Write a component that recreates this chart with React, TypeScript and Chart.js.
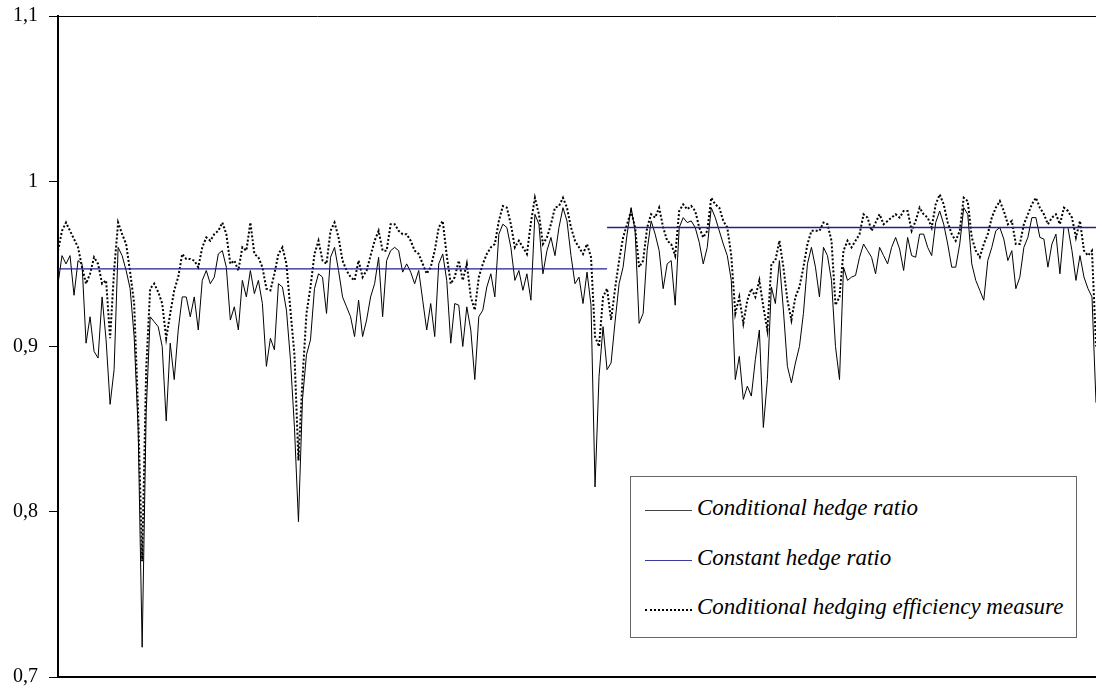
import React, { useEffect, useRef } from "react";
import { Chart, registerables } from "chart.js";

Chart.register(...registerables);

// Conditional hedge ratio (solid black), one value per observation
const conditionalHedgeRatio = [
  0.938, 0.955, 0.95, 0.955, 0.931, 0.952, 0.95, 0.902, 0.918, 0.897,
  0.893, 0.93, 0.904, 0.865, 0.886, 0.96, 0.955, 0.946, 0.935, 0.906,
  0.85, 0.718, 0.86, 0.918, 0.915, 0.912, 0.9, 0.855, 0.902, 0.88,
  0.91, 0.93, 0.93, 0.918, 0.93, 0.91, 0.94, 0.946, 0.938, 0.942,
  0.956, 0.958, 0.948, 0.916, 0.924, 0.91, 0.94, 0.93, 0.946, 0.932,
  0.94, 0.926, 0.888, 0.905, 0.898, 0.938, 0.936, 0.922, 0.892, 0.851,
  0.794, 0.868, 0.895, 0.904, 0.935, 0.944, 0.942, 0.92, 0.954, 0.96,
  0.946, 0.93, 0.924, 0.918, 0.906, 0.928, 0.906, 0.916, 0.93, 0.938,
  0.954, 0.918, 0.952, 0.958, 0.96, 0.958, 0.945, 0.95, 0.945, 0.938,
  0.946, 0.928, 0.91, 0.926, 0.906, 0.95, 0.956, 0.94, 0.902, 0.926,
  0.925, 0.9, 0.924, 0.91, 0.88, 0.918, 0.922, 0.936, 0.944, 0.93,
  0.968, 0.974, 0.972, 0.96, 0.94, 0.946, 0.934, 0.944, 0.928, 0.98,
  0.974, 0.944, 0.958, 0.966, 0.955, 0.972, 0.984, 0.976, 0.955, 0.938,
  0.942, 0.926, 0.945, 0.925, 0.815, 0.882, 0.912, 0.886, 0.89, 0.915,
  0.938, 0.948, 0.968, 0.984, 0.97, 0.914, 0.92, 0.958, 0.976, 0.968,
  0.958, 0.935, 0.95, 0.952, 0.925, 0.972, 0.978, 0.975, 0.976, 0.972,
  0.963, 0.95, 0.96, 0.984, 0.978, 0.97, 0.962, 0.955, 0.94, 0.88,
  0.894, 0.868, 0.876, 0.87, 0.892, 0.91, 0.851, 0.88, 0.936, 0.926,
  0.952, 0.922, 0.888, 0.878, 0.89, 0.9, 0.92, 0.95, 0.96, 0.948,
  0.93, 0.96, 0.955, 0.94, 0.9, 0.88, 0.948, 0.94, 0.942, 0.943,
  0.954, 0.962, 0.958, 0.954, 0.944, 0.96, 0.955, 0.95, 0.96, 0.966,
  0.959, 0.946, 0.966, 0.955, 0.954, 0.968, 0.968, 0.96, 0.955, 0.975,
  0.982, 0.974, 0.962, 0.948, 0.948, 0.962, 0.984, 0.98, 0.95, 0.94,
  0.934, 0.928, 0.952, 0.96, 0.97, 0.972, 0.965, 0.952, 0.958, 0.935,
  0.942, 0.96, 0.966, 0.978, 0.978, 0.966, 0.965, 0.948, 0.962, 0.968,
  0.944, 0.972, 0.972, 0.958, 0.94, 0.955, 0.942, 0.935, 0.93, 0.866,
];

// Conditional hedging efficiency measure (dotted black)
const hedgingEfficiency = [
  0.958, 0.97, 0.975, 0.97, 0.965, 0.96, 0.948, 0.938, 0.944, 0.954,
  0.95, 0.938, 0.94, 0.905, 0.946, 0.975, 0.968, 0.962, 0.945, 0.926,
  0.86, 0.77, 0.886, 0.935, 0.938, 0.933, 0.926, 0.905, 0.92, 0.934,
  0.942, 0.956, 0.953, 0.953, 0.952, 0.948, 0.96, 0.966, 0.964, 0.968,
  0.97, 0.975, 0.968, 0.95, 0.952, 0.946, 0.96, 0.958, 0.975, 0.956,
  0.954, 0.948, 0.935, 0.934, 0.944, 0.956, 0.96, 0.95, 0.922, 0.895,
  0.831, 0.88, 0.92, 0.936, 0.956, 0.964, 0.952, 0.95, 0.97, 0.975,
  0.966, 0.952, 0.946, 0.942, 0.94, 0.952, 0.942, 0.946, 0.955, 0.964,
  0.97, 0.958, 0.958, 0.974, 0.974, 0.97, 0.968, 0.968, 0.964, 0.958,
  0.956, 0.95, 0.944, 0.948, 0.958, 0.972, 0.976, 0.955, 0.938, 0.942,
  0.952, 0.94, 0.95, 0.93, 0.922, 0.942, 0.95, 0.956, 0.96, 0.962,
  0.976, 0.985, 0.984, 0.974, 0.96, 0.964, 0.96, 0.956, 0.975, 0.99,
  0.98, 0.962, 0.966, 0.974, 0.984, 0.985, 0.99, 0.984, 0.972, 0.964,
  0.96, 0.956, 0.962, 0.954, 0.906, 0.9, 0.93, 0.935, 0.916, 0.935,
  0.952, 0.966, 0.974, 0.982, 0.972, 0.948, 0.952, 0.972, 0.98, 0.978,
  0.984, 0.972, 0.964, 0.962, 0.955, 0.982, 0.986, 0.983, 0.985, 0.982,
  0.972, 0.966, 0.97, 0.99, 0.986, 0.984, 0.976, 0.972, 0.955, 0.92,
  0.93, 0.914, 0.928, 0.935, 0.93, 0.94, 0.924, 0.91, 0.95, 0.952,
  0.964, 0.948, 0.928, 0.916, 0.93, 0.936, 0.948, 0.962, 0.97, 0.97,
  0.97, 0.975, 0.974, 0.964, 0.925, 0.93, 0.958, 0.964, 0.96, 0.964,
  0.968, 0.98, 0.978, 0.97, 0.975, 0.98, 0.974, 0.976, 0.978, 0.98,
  0.978, 0.982, 0.982, 0.97, 0.976, 0.984, 0.98, 0.978, 0.972, 0.986,
  0.992, 0.986, 0.975, 0.968, 0.964, 0.97, 0.99, 0.988, 0.966, 0.958,
  0.954, 0.962, 0.968, 0.978, 0.984, 0.988, 0.982, 0.974, 0.976, 0.962,
  0.962, 0.974, 0.98, 0.986, 0.99, 0.984, 0.98, 0.974, 0.978, 0.98,
  0.974, 0.984, 0.982, 0.978, 0.966, 0.976, 0.958, 0.955, 0.958, 0.9,
];

// Constant hedge ratio: one level per sub-period, and the observation where it changes
const constantHedgeLevels = [0.947, 0.972];
const constantHedgeBreak = 137;

const yTickValues = [0.7, 0.8, 0.9, 1.0, 1.1];
const seriesNames = [
  "Conditional hedge ratio",
  "Constant hedge ratio",
  "Conditional hedging efficiency measure",
];

const W = 1096;
const H = 692;
const NAVY = "#20208c";
const SERIF = "'Liberation Serif', 'Times New Roman', serif";

const formatTick = (v: number) => {
  const r = Math.round(v * 10) / 10;
  return String(r).replace(".", ",");
};

const topBorder = {
  id: "topBorder",
  afterDraw(chart: any) {
    const { ctx, chartArea } = chart;
    ctx.save();
    ctx.strokeStyle = "#000";
    ctx.lineWidth = 1;
    ctx.beginPath();
    ctx.moveTo(chartArea.left, chartArea.top + 0.5);
    ctx.lineTo(chartArea.right, chartArea.top + 0.5);
    ctx.stroke();
    ctx.restore();
  },
};

export default function App() {
  const ref = useRef<HTMLCanvasElement | null>(null);

  useEffect(() => {
    if (!ref.current) return;
    const labels = conditionalHedgeRatio.map((_, i) => String(i + 1));
    const constA = labels.map((_, i) => (i <= constantHedgeBreak ? constantHedgeLevels[0] : null));
    const constB = labels.map((_, i) => (i >= constantHedgeBreak ? constantHedgeLevels[1] : null));

    const chart = new Chart(ref.current, {
      type: "line",
      data: {
        labels,
        datasets: [
          {
            label: seriesNames[0],
            data: conditionalHedgeRatio,
            borderColor: "#000",
            borderWidth: 1,
            pointRadius: 0,
            tension: 0,
            order: 2,
          },
          {
            label: seriesNames[1],
            data: constA,
            borderColor: NAVY,
            borderWidth: 1.3,
            pointRadius: 0,
            spanGaps: false,
            order: 0,
          },
          {
            label: seriesNames[1] + " (2)",
            data: constB,
            borderColor: NAVY,
            borderWidth: 1.3,
            pointRadius: 0,
            spanGaps: false,
            order: 0,
          },
          {
            label: seriesNames[2],
            data: hedgingEfficiency,
            borderColor: "#000",
            borderWidth: 2,
            borderDash: [2, 2],
            pointRadius: 0,
            tension: 0,
            order: 3,
          },
        ],
      },
      options: {
        responsive: false,
        animation: false,
        devicePixelRatio: 1,
        layout: { padding: { top: 16, right: 0, bottom: 15, left: 0 } },
        plugins: {
          legend: { display: false },
          tooltip: { enabled: false },
        },
        scales: {
          x: {
            type: "category",
            offset: false,
            grid: { display: false },
            ticks: { display: false },
            border: { display: true, color: "#000", width: 2 },
            afterFit: (s: any) => {
              s.height = 0;
              s.paddingLeft = 0;
              s.paddingRight = 0;
            },
          },
          y: {
            min: 0.7,
            max: 1.1,
            afterBuildTicks: (s: any) => {
              s.ticks = yTickValues.map((v) => ({ value: v }));
            },
            grid: {
              display: true,
              drawOnChartArea: false,
              drawTicks: true,
              tickLength: 9,
              color: "#000",
              lineWidth: 1,
            },
            border: { display: true, color: "#000", width: 2 },
            ticks: {
              color: "#000",
              padding: 11,
              font: { family: SERIF, size: 20 },
              callback: (v: any) => formatTick(Number(v)),
            },
            afterFit: (s: any) => {
              s.width = 58;
              s.paddingTop = 0;
              s.paddingBottom = 0;
            },
          },
        },
      },
      plugins: [topBorder],
    });
    return () => chart.destroy();
  }, []);

  const row = (top: number, sample: React.ReactNode, text: string) => (
    <div
      style={{
        position: "absolute",
        left: 0,
        top,
        height: 24,
        display: "flex",
        alignItems: "center",
        whiteSpace: "nowrap",
      }}
    >
      <div style={{ width: 14 }} />
      {sample}
      <div style={{ width: 5 }} />
      <span
        style={{
          fontFamily: SERIF,
          fontStyle: "italic",
          fontSize: 23,
          lineHeight: "24px",
          color: "#000",
        }}
      >
        {text}
      </span>
    </div>
  );

  return (
    <div style={{ position: "fixed", left: 0, top: 0, width: W, height: H, overflow: "hidden", background: "#fff" }}>
      <canvas ref={ref} width={W} height={H} style={{ width: W, height: H, display: "block" }} />
      <div
        style={{
          position: "absolute",
          left: 630,
          top: 476,
          width: 445,
          height: 160,
          border: "1px solid #666",
          background: "#fff",
          boxSizing: "content-box",
        }}
      >
        {row(19, <div style={{ width: 47, borderTop: "1px solid #444", marginTop: 5 }} />, seriesNames[0])}
        {row(69, <div style={{ width: 47, borderTop: "1px solid #3a3a9a", marginTop: 5 }} />, seriesNames[1])}
        {row(118, <div style={{ width: 47, borderTop: "2px dotted #000", marginTop: 5 }} />, seriesNames[2])}
      </div>
    </div>
  );
}
